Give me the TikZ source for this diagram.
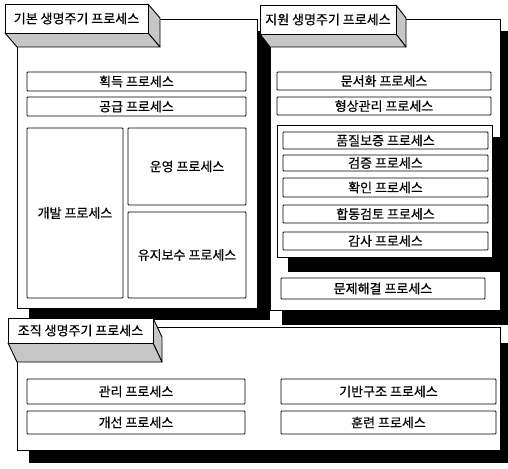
\documentclass[tikz,border=0pt]{standalone}
\usepackage{fontspec}
\setmainfont{Noto Sans CJK KR}[FakeBold=0.5]
\tikzset{
  frame/.style={draw=black, fill=white, line width=0.9pt},
  shadowfill/.style={fill=black},
  item/.style={draw=black, fill=white, line width=0.9pt, rounded corners=0.8pt, inner sep=0pt, font=\fontsize{13}{15}\selectfont},
  tabface/.style={draw=black, fill=white, line width=0.9pt, inner sep=0pt, font=\fontsize{13}{15}\selectfont},
  tabside/.style={draw=black, fill=gray!45, line width=0.9pt, line join=round},
}
\newcommand\procbox[6]{\node[item, minimum width={(#4-#2)*1pt}, minimum height={(#5-#3)*1pt}] (#1) at ({(#2+#4)/2},{(#3+#5)/2}) {#6};}
\newcommand\tabbox[8]{%
  \draw[tabside] (#4,#3) -- ({#4+#6},{#3+#7}) -- ({#4+#6},{#5+#7}) -- (#4,#5) -- cycle;
  \draw[tabside] (#2,#5) -- (#4,#5) -- ({#4+#6},{#5+#7}) -- ({#2+#6},{#5+#7}) -- cycle;
  \node[tabface, minimum width={(#4-#2)*1pt}, minimum height={(#5-#3)*1pt}] (#1) at ({(#2+#4)/2},{(#3+#5)/2}) {#8};}
\begin{document}
\begin{tikzpicture}[x=1pt,y=-1pt]
\useasboundingbox (0,0) rectangle (508,468);
\clip (0,0) rectangle (508,468);
\fill[white] (0,0) rectangle (508,468);
% box 1
\fill[shadowfill] (29,31) rectangle (270,320);
\draw[frame] (17,19) rectangle (257,308);
% box 2
\fill[shadowfill] (282,31) rectangle (514,325);
\draw[frame] (270,19) rectangle (500,310);
% box 3
\fill[shadowfill] (29,343) rectangle (514,463);
\draw[frame] (17,327) rectangle (500,450);
% tabs
\tabbox{tabA}{5}{4}{148}{33}{12}{14}{기본 생명주기 프로세스}
\tabbox{tabB}{260}{5}{396}{34}{10}{13}{지원 생명주기 프로세스}
\tabbox{tabC}{8}{318}{153}{343}{9}{19}{조직 생명주기 프로세스}
% box 1 contents
\procbox{acq}{27}{72}{246}{91}{획득 프로세스}
\procbox{sup}{27}{97}{246}{116}{공급 프로세스}
\procbox{dev}{27}{128}{123}{298}{개발 프로세스}
\procbox{ops}{128}{128}{246}{205}{운영 프로세스}
\procbox{mnt}{128}{212}{246}{298}{유지보수 프로세스}
% box 2 contents
\procbox{doc}{277}{72}{491}{90}{문서화 프로세스}
\procbox{cfg}{277}{97}{491}{115}{형상관리 프로세스}
\fill[shadowfill] (288,137) rectangle (500,272);
\draw[frame] (277,125) rectangle (492,257);
\procbox{qa}{283}{132}{488}{149}{품질보증 프로세스}
\procbox{ver}{283}{155}{488}{171}{검증 프로세스}
\procbox{val}{283}{178}{488}{197}{확인 프로세스}
\procbox{jrv}{283}{205}{488}{223}{합동검토 프로세스}
\procbox{aud}{283}{232}{488}{250}{감사 프로세스}
\procbox{prb}{281}{278}{485}{299}{문제해결 프로세스}
% box 3 contents
\procbox{mgt}{27}{379}{245}{404}{관리 프로세스}
\procbox{imp}{27}{411}{245}{434}{개선 프로세스}
\procbox{inf}{281}{379}{496}{404}{기반구조 프로세스}
\procbox{trn}{281}{411}{496}{434}{훈련 프로세스}
\end{tikzpicture}
\end{document}
